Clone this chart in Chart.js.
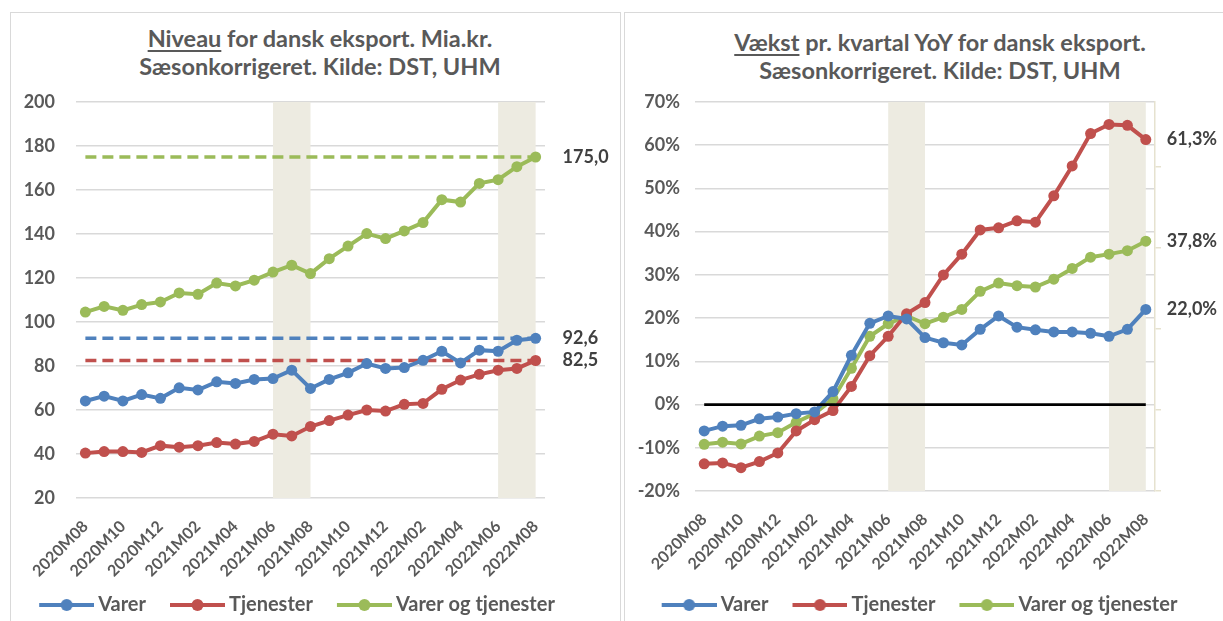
<!DOCTYPE html>
<html>
<head>
<meta charset="utf-8">
<script src="https://cdn.jsdelivr.net/npm/chart.js@4.4.1/dist/chart.umd.min.js"></script>
<style>
  html, body { margin:0; padding:0; background:#fff; overflow:hidden; width:1223px; height:621px; }
  .panel { position:absolute; border:1.5px solid #D9D9D9; box-sizing:border-box; }
  .title { position:absolute; text-align:center; font-family:Lato, sans-serif; font-weight:bold;
           font-size:23.5px; line-height:28px; color:#595959; }
  .title u { text-decoration-thickness:1.5px; text-underline-offset:3px; }
  canvas { position:absolute; }
</style>
</head>
<body>
<div class="panel" style="left:10px;top:12px;width:611px;height:700px"></div>
<div class="panel" style="left:624px;top:12px;width:700px;height:700px"></div>
<div class="title" style="left:0px;top:24px;width:640px"><u>Niveau</u> for dansk eksport. Mia.kr.<br>Sæsonkorrigeret. Kilde: DST, UHM</div>
<div class="title" style="left:620px;top:28px;width:640px"><u>Vækst</u> pr. kvartal YoY for dansk eksport.<br>Sæsonkorrigeret. Kilde: DST, UHM</div>
<canvas id="c1" width="608" height="620" style="left:12px;top:14px"></canvas>
<canvas id="c2" width="598" height="620" style="left:625px;top:14px"></canvas>
<script>
// ---------- data ----------
const months = ['2020M08','2020M09','2020M10','2020M11','2020M12',
  '2021M01','2021M02','2021M03','2021M04','2021M05','2021M06','2021M07','2021M08','2021M09','2021M10','2021M11','2021M12',
  '2022M01','2022M02','2022M03','2022M04','2022M05','2022M06','2022M07','2022M08'];

// Niveau, mia. kr.
const niveauVarer = [64.1, 66.3, 64.1, 67.0, 65.3, 70.1, 69.1, 72.8, 72.1, 73.9, 74.3, 78.1, 69.8, 73.9, 76.9, 81.1, 78.9, 79.3, 82.6, 86.7, 81.4, 87.2, 86.7, 91.7, 92.6];
const niveauTjenester = [40.4, 41.1, 41.1, 40.7, 43.8, 43.1, 43.8, 45.2, 44.5, 45.7, 49.0, 48.2, 52.5, 55.2, 57.7, 60.0, 59.5, 62.6, 63.0, 69.4, 73.6, 76.2, 78.1, 78.9, 82.5];
const niveauTotal = [104.5, 107.1, 105.3, 107.9, 109.1, 113.2, 112.6, 117.7, 116.4, 119.0, 122.7, 125.8, 122.0, 128.8, 134.5, 140.2, 137.9, 141.4, 145.2, 155.6, 154.5, 163.0, 164.7, 170.6, 175.0];
// reference (dashed) levels = latest values
const niveauRefLevels = { varer: 92.6, tjenester: 82.5, total: 175.0 };

// Vækst YoY, pct.
const vaekstVarer = [-6.1, -5.0, -4.8, -3.3, -2.9, -2.1, -1.7, 3.0, 11.4, 18.8, 20.5, 19.8, 15.5, 14.3, 13.8, 17.4, 20.5, 17.9, 17.3, 16.8, 16.8, 16.5, 15.8, 17.4, 22.0];
const vaekstTjenester = [-13.7, -13.5, -14.6, -13.2, -11.2, -6.1, -3.5, -1.4, 4.2, 11.3, 15.8, 21.0, 23.6, 30.0, 34.8, 40.4, 40.9, 42.5, 42.2, 48.3, 55.2, 62.7, 64.8, 64.6, 61.3];
const vaekstTotal = [-9.2, -8.7, -9.1, -7.3, -6.5, -4.1, -2.1, 1.3, 8.4, 15.8, 18.7, 20.5, 18.7, 20.2, 22.0, 26.2, 28.1, 27.5, 27.2, 29.0, 31.5, 34.1, 34.8, 35.6, 37.8];
const vaekstZero = 0;

// shaded periods
const shadeBands = [['2021M06','2021M08'], ['2022M06','2022M08']];

// axis ticks
const niveauTicks = { min: 20, max: 200, step: 20 };
const vaekstTicks = { min: -20, max: 70, step: 10 };

const seriesNames = ['Varer', 'Tjenester', 'Varer og tjenester'];
const colors = { varer:'#4F81BD', tjenester:'#C0504D', total:'#9BBB59' };

// ---------- helpers ----------
const FONT = 'Lato, "Open Sans", sans-serif';
const TXT = '#595959';
const GRID = '#D9D9D9';
const BAND = '#EDEBE1';

// legend symbol: transparent lead-in + line with a dot
function marker(color) {
  const lead = 20, len = 55;
  const c = document.createElement('canvas');
  c.width = lead + len; c.height = 14;
  const g = c.getContext('2d');
  g.strokeStyle = color; g.lineWidth = 4;
  g.beginPath(); g.moveTo(lead, 7); g.lineTo(lead + len, 7); g.stroke();
  g.fillStyle = color; g.beginPath(); g.arc(lead + len / 2, 7, 6, 0, Math.PI*2); g.fill();
  return c;
}
const markers = { [colors.varer]: marker(colors.varer), [colors.tjenester]: marker(colors.tjenester), [colors.total]: marker(colors.total) };

function mainSeries(label, data, color) {
  return { label, data, borderColor: color, backgroundColor: color, borderWidth: 4,
    pointRadius: 5.5, pointHoverRadius: 5.5, pointBackgroundColor: color, pointBorderWidth: 0,
    tension: 0, endLabel: true };
}
function refLine(level, color, dashed) {
  return { label: '', data: [{x: months[0], y: level}, {x: months[months.length-1], y: level}],
    borderColor: color, borderWidth: dashed ? 3.5 : 2.8, borderDash: dashed ? [11, 6] : [],
    pointRadius: 0, tension: 0, noLegend: true };
}

const bandPlugin = {
  id: 'bands',
  beforeDatasetsDraw(chart) {
    const { ctx, chartArea, scales } = chart;
    const x = scales.x;
    ctx.save();
    ctx.fillStyle = BAND;
    for (const [a, b] of shadeBands) {
      const x0 = x.getPixelForValue(months.indexOf(a));
      const x1 = x.getPixelForValue(months.indexOf(b));
      ctx.fillRect(x0, chartArea.top, x1 - x0, chartArea.bottom - chartArea.top);
    }
    ctx.restore();
  }
};

const endLabelPlugin = {
  id: 'endLabels',
  afterDatasetsDraw(chart, args, opts) {
    const { ctx } = chart;
    ctx.save();
    ctx.font = 'bold 18px ' + FONT;
    ctx.fillStyle = '#404040';
    ctx.textAlign = 'left';
    ctx.textBaseline = 'middle';
    chart.data.datasets.forEach((ds, i) => {
      if (!ds.endLabel) return;
      const meta = chart.getDatasetMeta(i);
      const pt = meta.data[meta.data.length - 1];
      const v = ds.data[ds.data.length - 1];
      ctx.fillText(v.toFixed(1).replace('.', ',') + (opts.suffix || ''), pt.x + opts.offset, pt.y);
    });
    ctx.restore();
  }
};

function legendOpts() {
  return {
    position: 'bottom', align: 'center',
    labels: {
      usePointStyle: true, pointStyleWidth: 63, padding: 10,
      font: { family: FONT, weight: 'bold', size: 20 }, color: TXT,
      generateLabels(chart) {
        return chart.data.datasets.map((ds, i) => ({ ds, i })).filter(o => !o.ds.noLegend).map(o => ({
          text: o.ds.label, pointStyle: markers[o.ds.borderColor], fillStyle: o.ds.borderColor,
          strokeStyle: o.ds.borderColor, lineWidth: 0, hidden: false, datasetIndex: o.i, fontColor: TXT
        }));
      }
    }
  };
}

function xAxis(height, pad) {
  return {
    type: 'category', offset: true,
    grid: { display: false }, border: { display: false },
    ticks: { autoSkip: false, maxRotation: 45, minRotation: 45, padding: pad,
      color: TXT, font: { family: FONT, weight: 'bold', size: 16 },
      callback: (v, i) => (i % 2 === 0 ? months[i] : '') },
    afterFit: s => { s.height = height; }
  };
}

Chart.defaults.font.family = FONT;

// ---------- left chart: Niveau ----------
new Chart(document.getElementById('c1'), {
  type: 'line',
  data: {
    labels: months,
    datasets: [
      mainSeries(seriesNames[0], niveauVarer, colors.varer),
      mainSeries(seriesNames[1], niveauTjenester, colors.tjenester),
      mainSeries(seriesNames[2], niveauTotal, colors.total),
      refLine(niveauRefLevels.varer, colors.varer, true),
      refLine(niveauRefLevels.tjenester, colors.tjenester, true),
      refLine(niveauRefLevels.total, colors.total, true)
    ]
  },
  options: {
    responsive: false, animation: false, devicePixelRatio: 1,
    layout: { padding: { left: 0, right: 52, top: 88, bottom: 9 } },
    plugins: { legend: legendOpts(), tooltip: { enabled: false }, endLabels: { offset: 27 } },
    scales: {
      x: xAxis(87, 11),
      y: {
        min: niveauTicks.min, max: niveauTicks.max,
        ticks: { stepSize: niveauTicks.step, padding: 21, color: TXT, font: { family: FONT, weight: 'bold', size: 18 } },
        grid: { color: GRID, lineWidth: 1.5, drawTicks: false }, border: { display: false },
        afterFit: s => { s.width = 64; }
      },
      yR: {
        position: 'right', grid: { display: false }, border: { display: false }, ticks: { display: false },
        afterFit: s => { s.width = 23; }
      }
    }
  },
  plugins: [bandPlugin, endLabelPlugin]
});

// ---------- right chart: Vækst ----------
new Chart(document.getElementById('c2'), {
  type: 'line',
  data: {
    labels: months,
    datasets: [
      Object.assign(refLine(vaekstZero, '#000000', false), { order: -1 }),
      mainSeries(seriesNames[0], vaekstVarer, colors.varer),
      mainSeries(seriesNames[1], vaekstTjenester, colors.tjenester),
      mainSeries(seriesNames[2], vaekstTotal, colors.total)
    ]
  },
  options: {
    responsive: false, animation: false, devicePixelRatio: 1,
    layout: { padding: { left: 10, right: 33, top: 88, bottom: 9 } },
    plugins: { legend: legendOpts(), tooltip: { enabled: false }, endLabels: { offset: 21, suffix: '%' } },
    scales: {
      x: xAxis(94, 11),
      y: {
        min: vaekstTicks.min, max: vaekstTicks.max,
        ticks: { stepSize: vaekstTicks.step, padding: 15, color: TXT, font: { family: FONT, weight: 'bold', size: 18 },
          callback: v => Math.round(v) + '%' },
        grid: { color: GRID, lineWidth: 1.5, drawTicks: false }, border: { display: false },
        afterFit: s => { s.width = 60; }
      },
      y2: {
        position: 'right', min: 0, max: 1.2,
        ticks: { display: false, stepSize: 0.25 },
        afterBuildTicks: s => { s.ticks = s.ticks.filter(t => t.value <= 1.0001); },
        grid: { drawOnChartArea: false, color: '#E6E2CF', lineWidth: 1.5, tickLength: 6 },
        border: { color: '#E6E2CF', width: 1.5 },
        afterFit: s => { s.width = 35; }
      }
    }
  },
  plugins: [bandPlugin, endLabelPlugin]
});
</script>
</body>
</html>
